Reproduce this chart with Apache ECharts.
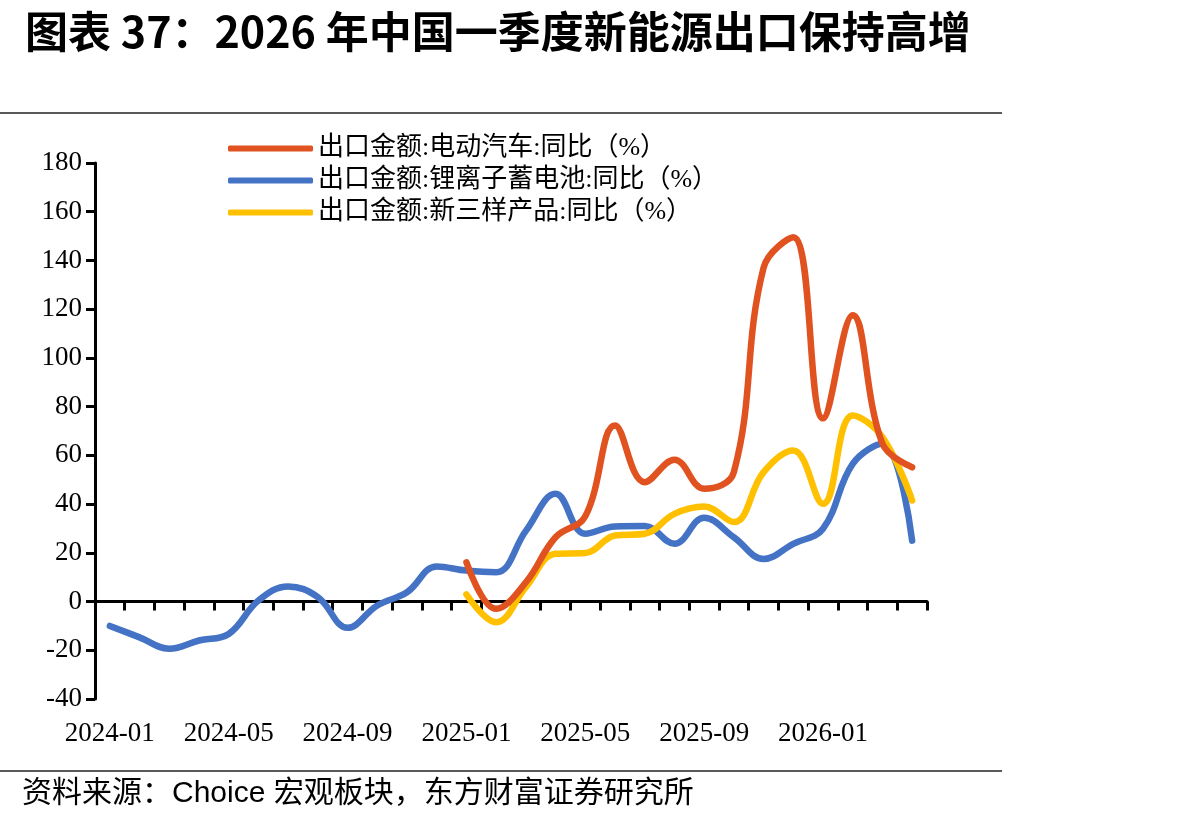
<!DOCTYPE html>
<html>
<head>
<meta charset="utf-8">
<script src="https://cdn.jsdelivr.net/npm/echarts@6/dist/echarts.min.js"></script>
<style>
  html, body { margin: 0; padding: 0; background: #fff; }
  #chart { width: 1192px; height: 825px; }
</style>
</head>
<body>
<div id="chart"></div>
<script>
// 月份
var months = ['2024-01','2024-02','2024-03','2024-04','2024-05','2024-06','2024-07','2024-08','2024-09','2024-10','2024-11','2024-12',
              '2025-01','2025-02','2025-03','2025-04','2025-05','2025-06','2025-07','2025-08','2025-09','2025-10','2025-11','2025-12',
              '2026-01','2026-02','2026-03','2026-04'];
// 出口金额:电动汽车:同比（%）
var evYoy = [null, null, null, null, null, null, null, null, null, null, null, null,
             16.1, -3.0, 7.9, 26.4, 35, 72.3, 49, 58.2, 46.3, 53.1, 137, 149.5, 75.2, 117.5, 64.8, 55.1];
// 出口金额:锂离子蓄电池:同比（%）
var batteryYoy = [-10, -14.7, -19.4, -16, -13.3, 0.4, 6.2, 1.8, -10.8, -1.6, 3.8, 14.4,
                  12.7, 12, 29, 44.2, 27.8, 30.8, 31, 23.7, 34.4, 26.4, 17.5, 23.7, 29.9, 56.5, 64.8, 25];
// 出口金额:新三样产品:同比（%）
var newThreeYoy = [null, null, null, null, null, null, null, null, null, null, null, null,
                   2.9, -8.5, 5.9, 19.6, 19.9, 27.1, 27.8, 36, 39, 32.6, 53.1, 62, 40.1, 76.4, 67.5, 41.5];
var seriesNames = ['出口金额:电动汽车:同比（%）', '出口金额:锂离子蓄电池:同比（%）', '出口金额:新三样产品:同比（%）'];

var myChart = echarts.init(document.getElementById('chart'));

var numFont = 'Liberation Serif';
var cjkFont = '"Liberation Serif", "Noto Sans CJK SC"';

function lineSeries(name, data, color, z) {
    return {
        name: name,
        type: 'line',
        data: data,
        smooth: 0.4,
        symbol: 'none',
        z: z,
        itemStyle: { color: color },
        lineStyle: { color: color, width: 6.5, cap: 'round', join: 'round' }
    };
}

var option = {
    animation: false,
    backgroundColor: '#fff',
    title: {
        text: '图表 37：2026 年中国一季度新能源出口保持高增',
        left: 20,
        top: 5,
        textStyle: { fontSize: 43, fontWeight: 'bold', color: '#000', fontFamily: '"Noto Sans CJK SC"' }
    },
    legend: {
        orient: 'vertical',
        left: 228,
        top: 135,
        padding: 0,
        itemWidth: 85,
        itemHeight: 6,
        itemGap: 5,
        icon: 'roundRect',
        data: seriesNames,
        textStyle: { fontSize: 26, lineHeight: 27, color: '#000', fontFamily: cjkFont }
    },
    grid: { left: 95, top: 163, width: 832, height: 536, containLabel: false },
    xAxis: [
        {
            type: 'category',
            data: months,
            boundaryGap: true,
            axisLine: { onZero: true, lineStyle: { color: '#000', width: 3 } },
            axisTick: { show: true, interval: 0, length: 9, lineStyle: { color: '#000', width: 3 } },
            axisLabel: { show: false },
            splitLine: { show: false }
        },
        {
            type: 'category',
            data: months,
            position: 'bottom',
            boundaryGap: true,
            axisLine: { show: false, onZero: false },
            axisTick: { show: false },
            axisLabel: { interval: 3, margin: 21, fontSize: 27, color: '#000', fontFamily: numFont },
            splitLine: { show: false }
        }
    ],
    yAxis: {
        type: 'value',
        min: -40,
        max: 180,
        interval: 20,
        axisLine: { show: true, lineStyle: { color: '#000', width: 3 } },
        axisTick: { show: true, length: 9, lineStyle: { color: '#000', width: 3 } },
        axisLabel: { margin: 13, fontSize: 27, color: '#000', fontFamily: numFont },
        splitLine: { show: false }
    },
    series: [
        lineSeries(seriesNames[0], evYoy, '#E0521F', 4),
        lineSeries(seriesNames[1], batteryYoy, '#4472C4', 2),
        lineSeries(seriesNames[2], newThreeYoy, '#FFC000', 3)
    ],
    graphic: [
        { type: 'line', shape: { x1: 0, y1: 113, x2: 1002, y2: 113 }, style: { stroke: '#222', lineWidth: 1.5 } },
        { type: 'line', shape: { x1: 0, y1: 771, x2: 1002, y2: 771 }, style: { stroke: '#222', lineWidth: 1.5 } },
        {
            type: 'text', left: 22, top: 779,
            style: {
                text: '资料来源：Choice 宏观板块，东方财富证券研究所',
                fontSize: 30, fill: '#000',
                fontFamily: '"Liberation Sans", "Noto Sans CJK SC"'
            }
        }
    ]
};

myChart.setOption(option);
</script>
</body>
</html>
